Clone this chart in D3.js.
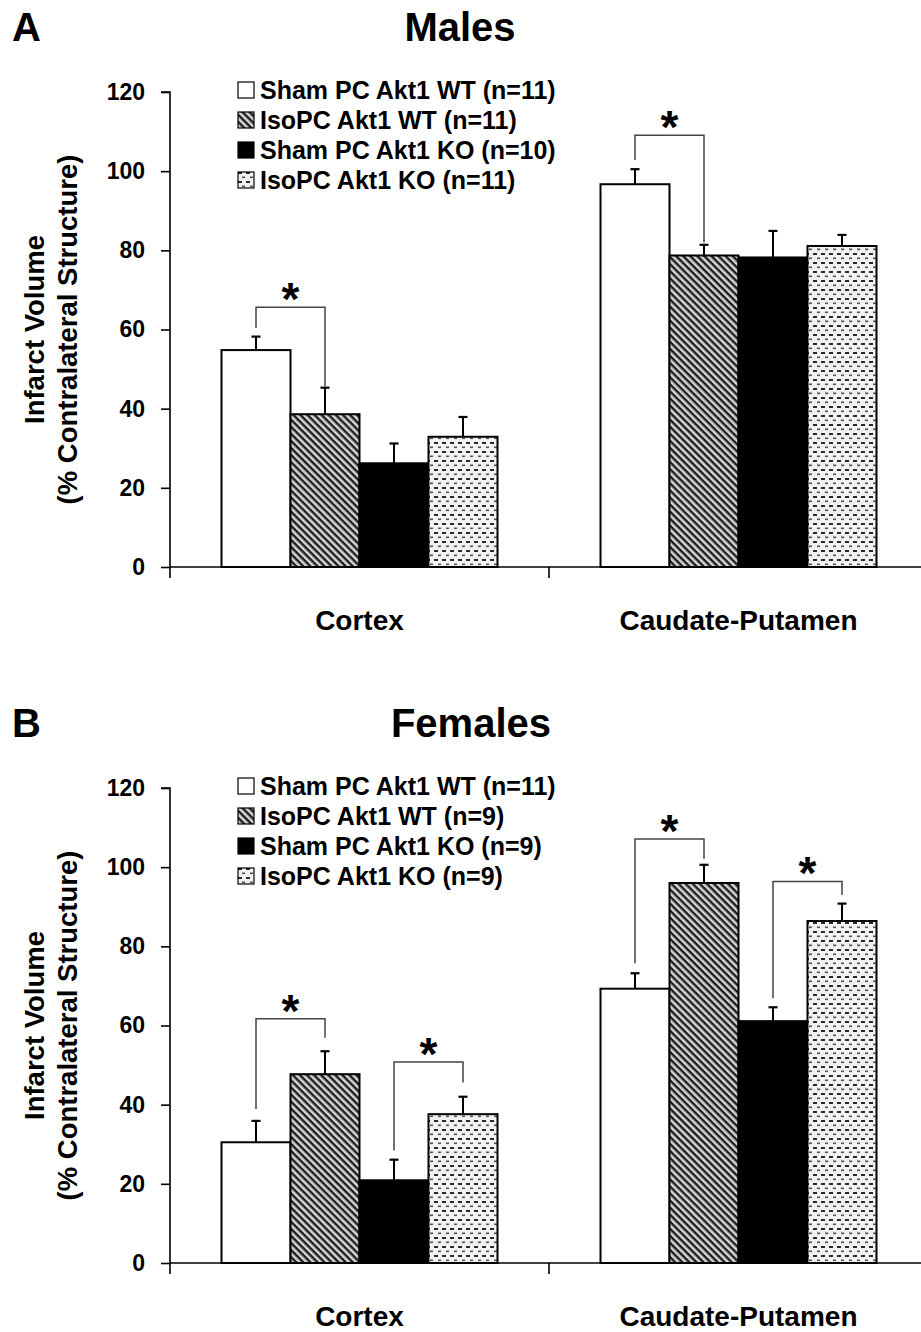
<!DOCTYPE html>
<html>
<head>
<meta charset="utf-8">
<script src="https://cdn.jsdelivr.net/npm/d3@7"></script>
<style>
  body { margin: 0; background: #fff; }
  svg { display: block; font-family: Arial, "Liberation Sans", Helvetica, sans-serif; font-weight: bold; }
</style>
</head>
<body>
<svg id="chart" width="921" height="1332"></svg>
<script>
// data (means and upward SE bars, % contralateral structure)
var categories = ["Cortex", "Caudate-Putamen"];
var groups = ["Sham PC Akt1 WT", "IsoPC Akt1 WT", "Sham PC Akt1 KO", "IsoPC Akt1 KO"];
var fills = ["white", "hatch", "black", "dots"];
var yTicks = [0, 20, 40, 60, 80, 100, 120];

var malesN = [11, 11, 10, 11];
var malesMean = [[54.8, 38.6, 26.2, 32.9], [96.7, 78.7, 78.2, 81.1]];
var malesSE = [[3.4, 6.7, 5.0, 5.0], [3.8, 2.7, 6.7, 2.8]];
// significance brackets: category, bar a, bar b, top level, leg ends
var malesSig = [
  {cat: 0, a: 0, b: 1, top: 65.6, endA: 60.4, endB: 45.6},
  {cat: 1, a: 0, b: 1, top: 109.1, endA: 102.8, endB: 82.0}
];

var femalesN = [11, 9, 9, 9];
var femalesMean = [[30.5, 47.7, 20.9, 37.6], [69.3, 96.0, 61.1, 86.4]];
var femalesSE = [[5.4, 5.8, 5.2, 4.4], [3.9, 4.6, 3.5, 4.4]];
var femalesSig = [
  {cat: 0, a: 0, b: 1, top: 61.7, endA: 38.9, endB: 56.9},
  {cat: 0, a: 2, b: 3, top: 50.8, endA: 28.4, endB: 45.6},
  {cat: 1, a: 0, b: 1, top: 107.1, endA: 75.7, endB: 102.1},
  {cat: 1, a: 2, b: 3, top: 96.4, endA: 66.9, endB: 93.0}
];

var svg = d3.select("#chart");

// patterns
var defs = svg.append("defs");
var hatch = defs.append("pattern")
    .attr("id", "hatch")
    .attr("patternUnits", "userSpaceOnUse")
    .attr("width", 5).attr("height", 5)
    .attr("patternTransform", "rotate(45)");
hatch.append("rect").attr("width", 5).attr("height", 5).attr("fill", "#d4d4d4");
hatch.append("rect").attr("width", 5).attr("height", 2.4).attr("fill", "#1e1e1e");

var dots = defs.append("pattern")
    .attr("id", "dots")
    .attr("patternUnits", "userSpaceOnUse")
    .attr("width", 8).attr("height", 9);
dots.append("rect").attr("width", 8).attr("height", 9).attr("fill", "#f2f2f2");
dots.append("rect").attr("x", 0).attr("y", 1).attr("width", 4).attr("height", 2).attr("fill", "#2a2a2a");
dots.append("rect").attr("x", 4).attr("y", 5.5).attr("width", 3).attr("height", 1.6).attr("fill", "#555");

function fillFor(i) {
  var f = fills[i];
  if (f == "hatch") return "url(#hatch)";
  if (f == "dots") return "url(#dots)";
  return f;
}

function drawPanel(top, letter, title, titleX, nList, means, ses, sig) {
  var g = svg.append("g").attr("transform", "translate(0," + top + ")");

  var y = d3.scaleLinear().domain([0, 120]).range([567, 92]);
  var x0 = d3.scaleBand().domain(categories).range([170, 928]);
  var groupW = 276;
  var x1 = d3.scaleBand().domain(groups)
      .range([(x0.bandwidth() - groupW) / 2, (x0.bandwidth() + groupW) / 2]);

  g.append("text").attr("x", 12).attr("y", 41)
      .attr("font-size", 40).text(letter);
  g.append("text").attr("x", titleX).attr("y", 41)
      .attr("font-size", 40).attr("text-anchor", "middle").text(title);

  // y axis
  var yAxis = g.append("g").attr("transform", "translate(170,0)")
      .call(d3.axisLeft(y).tickValues(yTicks).tickSize(9).tickPadding(16));
  yAxis.select(".domain").attr("d", "M-9," + y(120) + "H0V" + (y(0) + 11));
  yAxis.selectAll("line").attr("stroke", "#000").attr("stroke-width", 1.6);
  yAxis.select(".domain").attr("stroke", "#000").attr("stroke-width", 1.6);
  yAxis.selectAll("text").attr("font-size", 23).attr("font-weight", "bold")
      .attr("font-family", "Arial, 'Liberation Sans', sans-serif").attr("fill", "#000");

  // x axis: line with ticks at band edges
  var xAxis = g.append("g").attr("transform", "translate(0," + y(0) + ")");
  xAxis.append("line").attr("x1", 170).attr("x2", 921)
      .attr("stroke", "#000").attr("stroke-width", 1.6);
  xAxis.selectAll(".edge")
    .data(categories.slice(1))
    .enter().append("line")
      .attr("x1", function(d) { return x0(d); })
      .attr("x2", function(d) { return x0(d); })
      .attr("y1", 0).attr("y2", 11)
      .attr("stroke", "#000").attr("stroke-width", 1.6);
  xAxis.selectAll(".cat")
    .data(categories)
    .enter().append("text")
      .attr("x", function(d) { return x0(d) + x0.bandwidth() / 2; })
      .attr("y", 63)
      .attr("text-anchor", "middle")
      .attr("font-size", 28)
      .text(function(d) { return d; });

  // y label
  var yl = g.append("text")
      .attr("transform", "translate(0," + ((y(0) + y(120)) / 2) + ") rotate(-90)")
      .attr("text-anchor", "middle").attr("font-size", 27.5);
  yl.append("tspan").attr("x", 0).attr("y", 44).text("Infarct Volume");
  yl.append("tspan").attr("x", 0).attr("y", 77).text("(% Contralateral Structure)");

  // bars
  var rows = [];
  categories.forEach(function(c, ci) {
    groups.forEach(function(s, si) {
      rows.push({cat: c, ser: s, si: si, mean: means[ci][si], se: ses[ci][si]});
    });
  });

  var bars = g.selectAll(".bar").data(rows).enter().append("g")
      .attr("transform", function(d) { return "translate(" + x0(d.cat) + ",0)"; });

  bars.append("line")
      .attr("x1", function(d) { return x1(d.ser) + x1.bandwidth() / 2; })
      .attr("x2", function(d) { return x1(d.ser) + x1.bandwidth() / 2; })
      .attr("y1", function(d) { return y(d.mean); })
      .attr("y2", function(d) { return y(d.mean + d.se); })
      .attr("stroke", "#000").attr("stroke-width", 2);
  bars.append("line")
      .attr("x1", function(d) { return x1(d.ser) + x1.bandwidth() / 2 - 4.5; })
      .attr("x2", function(d) { return x1(d.ser) + x1.bandwidth() / 2 + 4.5; })
      .attr("y1", function(d) { return y(d.mean + d.se); })
      .attr("y2", function(d) { return y(d.mean + d.se); })
      .attr("stroke", "#000").attr("stroke-width", 2.2);

  bars.append("rect")
      .attr("x", function(d) { return x1(d.ser); })
      .attr("width", x1.bandwidth())
      .attr("y", function(d) { return y(d.mean); })
      .attr("height", function(d) { return y(0) - y(d.mean); })
      .attr("fill", function(d) { return fillFor(d.si); })
      .attr("stroke", "#000").attr("stroke-width", 2);

  // significance brackets
  var cx = function(ci, si) { return x0(categories[ci]) + x1(groups[si]) + x1.bandwidth() / 2; };
  sig.forEach(function(s) {
    var xa = cx(s.cat, s.a), xb = cx(s.cat, s.b);
    g.append("path")
        .attr("d", "M" + xa + "," + y(s.endA) + "V" + y(s.top) + "H" + xb + "V" + y(s.endB))
        .attr("fill", "none").attr("stroke", "#444").attr("stroke-width", 1.5);
    g.append("text")
        .attr("x", (xa + xb) / 2).attr("y", y(s.top) + 8)
        .attr("text-anchor", "middle").attr("font-size", 46)
        .text("*");
  });

  // legend
  var leg = g.selectAll(".leg").data(groups).enter().append("g")
      .attr("transform", function(d, i) { return "translate(238," + (90 + i * 30) + ")"; });
  leg.append("rect")
      .attr("x", 0).attr("y", -8).attr("width", 16).attr("height", 16)
      .attr("fill", function(d, i) { return fillFor(i); })
      .attr("stroke", "#000").attr("stroke-width", 1.2);
  leg.append("text")
      .attr("x", 22).attr("y", 9)
      .attr("font-size", 25)
      .text(function(d, i) { return d + " (n=" + nList[i] + ")"; });
}

drawPanel(0, "A", "Males", 460, malesN, malesMean, malesSE, malesSig);
drawPanel(696, "B", "Females", 471, femalesN, femalesMean, femalesSE, femalesSig);
</script>
</body>
</html>
